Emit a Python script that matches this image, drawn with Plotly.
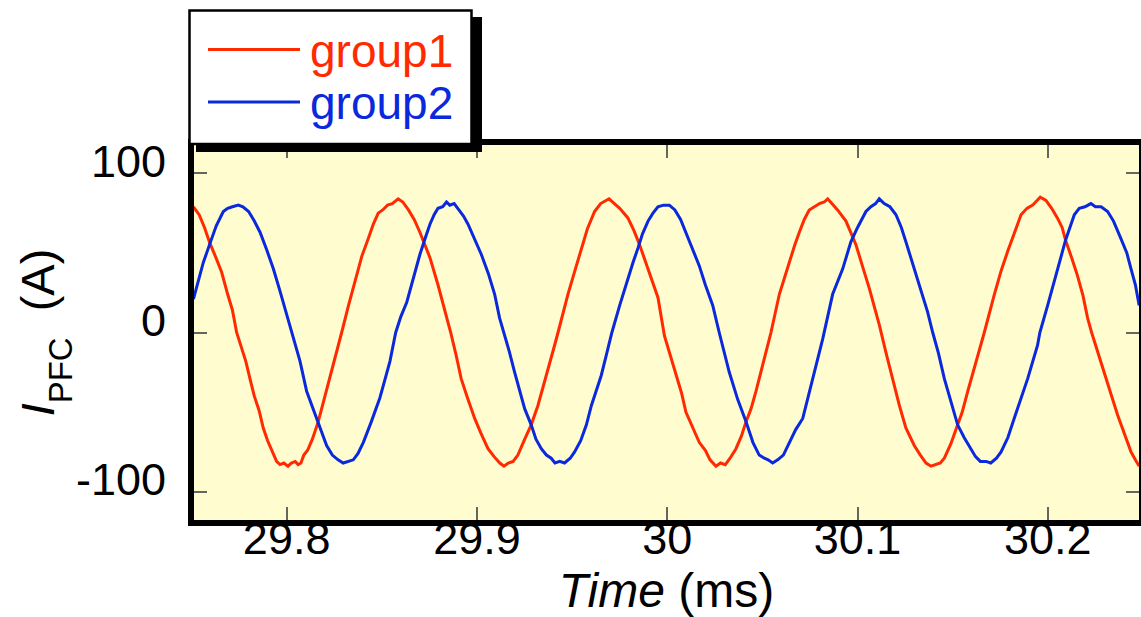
import plotly.graph_objects as go

# ---------------- data ----------------
t_group1 = [29.7510, 29.7540, 29.7568, 29.7597, 29.7625, 29.7658, 29.7690, 29.7715, 29.7737, 29.7760,
            29.7785, 29.7807, 29.7830, 29.7855, 29.7877, 29.7900, 29.7925, 29.7947, 29.7965, 29.7985,
            29.8007, 29.8025, 29.8045, 29.8060, 29.8075, 29.8090, 29.8110, 29.8135, 29.8166, 29.8195,
            29.8228, 29.8260, 29.8289, 29.8325, 29.8363, 29.8395, 29.8429, 29.8455, 29.8481, 29.8505,
            29.8530, 29.8555, 29.8586, 29.8610, 29.8640, 29.8670, 29.8700, 29.8725, 29.8753, 29.8795,
            29.8848, 29.8862, 29.8890, 29.8917, 29.8950, 29.8988, 29.9020, 29.9058, 29.9090, 29.9120,
            29.9142, 29.9165, 29.9190, 29.9215, 29.9251, 29.9285, 29.9320, 29.9356, 29.9408, 29.9426,
            29.9478, 29.9515, 29.9548, 29.9580, 29.9618, 29.9650, 29.9694, 29.9720, 29.9750, 29.9793,
            29.9825, 29.9855, 29.9899, 29.9951, 29.9985, 30.0046, 30.0075, 30.0098, 30.0130, 30.0168,
            30.0200, 30.0225, 30.0256, 30.0280, 30.0305, 30.0330, 30.0361, 30.0390, 30.0414, 30.0440,
            30.0466, 30.0495, 30.0519, 30.0545, 30.0589, 30.0615, 30.0641, 30.0670, 30.0694, 30.0720,
            30.0746, 30.0775, 30.0800, 30.0825, 30.0843, 30.0865, 30.0895, 30.0939, 30.0965, 30.0992,
            30.1025, 30.1061, 30.1114, 30.1123, 30.1150, 30.1184, 30.1220, 30.1254, 30.1298, 30.1330,
            30.1360, 30.1386, 30.1410, 30.1435, 30.1456, 30.1490, 30.1526, 30.1550, 30.1579, 30.1610,
            30.1649, 30.1666, 30.1719, 30.1755, 30.1789, 30.1825, 30.1859, 30.1890, 30.1920, 30.1960,
            30.1990, 30.2020, 30.2050, 30.2075, 30.2093, 30.2125, 30.2155, 30.2185, 30.2209, 30.2230,
            30.2260, 30.2296, 30.2330, 30.2367, 30.2400, 30.2437, 30.2460, 30.2480]
i_group1 = [79, 74, 66, 56, 48, 38, 24, 14, 0, -8,
            -18, -29, -40, -49, -60, -68, -75, -81, -83, -82,
            -84, -82, -81, -83, -82, -77, -74, -67, -56, -43,
            -29, -14, 0, 17, 34, 48, 59, 68, 75, 77,
            80, 81, 84, 82, 77, 71, 63, 56, 47, 30,
            7, 0, -14, -29, -41, -54, -63, -73, -78, -82,
            -84, -82, -81, -77, -67, -58, -46, -31, -8, 0,
            24, 39, 53, 65, 76, 81, 84, 81, 78, 72,
            64, 55, 40, 22, -2, -27, -38, -50, -59, -69,
            -74, -80, -84, -82, -83, -79, -73, -65, -56, -48,
            -37, -24, -12, 0, 24, 34, 45, 55, 63, 71,
            77, 79, 81, 82, 84, 81, 77, 70, 63, 55,
            42, 28, 5, 0, -13, -29, -46, -60, -71, -77,
            -82, -84, -83, -82, -79, -70, -58, -50, -37, -24,
            -8, 0, 24, 39, 51, 63, 74, 78, 80, 85,
            83, 78, 72, 66, 58, 47, 36, 23, 9, 0,
            -11, -25, -38, -52, -63, -75, -80, -84]

t_group2 = [29.7510, 29.7535, 29.7562, 29.7597, 29.7630, 29.7667, 29.7690, 29.7715, 29.7746, 29.7770,
            29.7800, 29.7830, 29.7860, 29.7895, 29.7930, 29.7965, 29.8000, 29.8026, 29.8070, 29.8105,
            29.8135, 29.8166, 29.8190, 29.8210, 29.8240, 29.8270, 29.8297, 29.8325, 29.8350, 29.8375,
            29.8403, 29.8445, 29.8490, 29.8520, 29.8543, 29.8573, 29.8600, 29.8631, 29.8665, 29.8700,
            29.8730, 29.8753, 29.8775, 29.8795, 29.8820, 29.8840, 29.8857, 29.8880, 29.8905, 29.8930,
            29.8953, 29.8990, 29.9023, 29.9060, 29.9093, 29.9119, 29.9142, 29.9170, 29.9198, 29.9225,
            29.9251, 29.9285, 29.9310, 29.9338, 29.9365, 29.9390, 29.9410, 29.9435, 29.9460, 29.9490,
            29.9513, 29.9545, 29.9575, 29.9601, 29.9625, 29.9653, 29.9680, 29.9709, 29.9750, 29.9793,
            29.9820, 29.9846, 29.9870, 29.9899, 29.9925, 29.9951, 29.9980, 30.0011, 30.0040, 30.0070,
            30.0098, 30.0130, 30.0168, 30.0200, 30.0239, 30.0273, 30.0300, 30.0326, 30.0370, 30.0414,
            30.0450, 30.0483, 30.0510, 30.0530, 30.0554, 30.0580, 30.0610, 30.0641, 30.0675, 30.0712,
            30.0740, 30.0764, 30.0795, 30.0817, 30.0869, 30.0895, 30.0922, 30.0965, 30.1000, 30.1044,
            30.1070, 30.1095, 30.1114, 30.1140, 30.1170, 30.1202, 30.1230, 30.1254, 30.1298, 30.1340,
            30.1368, 30.1395, 30.1425, 30.1456, 30.1490, 30.1526, 30.1560, 30.1596, 30.1620, 30.1645,
            30.1675, 30.1700, 30.1730, 30.1754, 30.1790, 30.1823, 30.1860, 30.1894, 30.1946, 30.1958,
            30.1999, 30.2051, 30.2093, 30.2139, 30.2165, 30.2195, 30.2226, 30.2250, 30.2280, 30.2314,
            30.2345, 30.2384, 30.2415, 30.2437, 30.2460, 30.2480]
i_group2 = [21, 33, 44, 56, 67, 76, 78, 79, 80, 79,
            76, 70, 63, 52, 40, 26, 11, 0, -18, -37,
            -47, -56, -65, -71, -77, -80, -82, -81, -80, -76,
            -69, -56, -41, -28, -18, 0, 10, 19, 34, 49,
            60, 68, 74, 78, 79, 82, 80, 81, 77, 73,
            68, 58, 49, 37, 24, 9, 0, -12, -25, -37,
            -48, -58, -67, -73, -77, -79, -82, -81, -82, -79,
            -75, -68, -58, -46, -37, -27, -14, 0, 17, 34,
            44, 53, 62, 70, 75, 79, 80, 80, 77, 71,
            63, 54, 42, 30, 17, 0, -12, -25, -42, -56,
            -69, -77, -79, -80, -82, -80, -77, -69, -61, -54,
            -41, -29, -15, -4, 24, 32, 40, 57, 66, 76,
            79, 81, 84, 81, 79, 74, 66, 57, 40, 25,
            13, 0, -13, -29, -43, -58, -66, -73, -78, -81,
            -81, -82, -79, -75, -66, -54, -41, -29, -8, 0,
            17, 40, 58, 74, 78, 79, 81, 79, 79, 76,
            70, 59, 50, 40, 30, 17]

series_names = ["group1", "group2"]
series_colors = ["#FF2A00", "#0A28DC"]

x_tickvals = [29.8, 29.9, 30.0, 30.1, 30.2]
x_ticktext = ["29.8", "29.9", "30", "30.1", "30.2"]
y_tickvals = [-100, 0, 100]
y_ticktext = ["-100", "0", "100"]
x_range = [29.7513, 30.2479]
y_range = [-117.8, 117.8]

# ---------------- layout constants ----------------
W, H = 1141, 617
ML, MR, MT, MB = 194, 2, 145, 97
PW, PH = W - ML - MR, H - MT - MB
FONT = "Liberation Sans, Arial, sans-serif"


def px(x):
    return (x - ML) / PW


def py(y):
    return (H - MB - y) / PH


fig = go.Figure()
for t, v, name, col in [(t_group1, i_group1, series_names[0], series_colors[0]),
                        (t_group2, i_group2, series_names[1], series_colors[1])]:
    fig.add_trace(go.Scatter(x=t, y=v, mode="lines", name=name,
                             line=dict(color=col, width=3), showlegend=False))

axis_common = dict(showgrid=False, zeroline=False, ticks="inside", ticklen=13,
                   tickwidth=1.5, tickcolor="#666660", showline=True, linecolor="black",
                   linewidth=6, mirror="allticks",
                   tickfont=dict(family=FONT, size=45, color="black"))

fig.update_xaxes(range=x_range, tickvals=x_tickvals, ticktext=x_ticktext,
                 ticklabelstandoff=-26,
                 title=dict(text="<i>Time</i> (ms)", font=dict(family=FONT, size=48, color="black"),
                            standoff=24),
                 **axis_common)
fig.update_yaxes(range=y_range, tickvals=y_tickvals, ticktext=y_ticktext,
                 ticklabelstandoff=13, ticklabelshift=-12,
                 title=dict(text="<i>I</i><sub><span style=\"baseline-shift:-8px\">PFC</span></sub>\u00a0 (A)",
                            font=dict(family=FONT, size=47, color="black"),
                            standoff=8),
                 **axis_common)

# legend box drawn by hand (long sample lines + drop shadow)
shapes = [
    dict(type="rect", xref="paper", yref="paper", x0=px(196), x1=px(482), y0=py(17), y1=py(152),
         fillcolor="black", line=dict(width=0), layer="above"),
    dict(type="rect", xref="paper", yref="paper", x0=px(189.5), x1=px(471.5), y0=py(10.5), y1=py(144),
         fillcolor="white", line=dict(color="black", width=2.5), layer="above"),
]
annotations = []
for k, (name, col) in enumerate(zip(series_names, series_colors)):
    yl = 49.5 + 52.5 * k
    shapes.append(dict(type="line", xref="paper", yref="paper", x0=px(208), x1=px(300),
                       y0=py(yl), y1=py(yl), line=dict(color=col, width=3), layer="above"))
    annotations.append(dict(xref="paper", yref="paper", x=px(308), y=py(yl + 1),
                            xanchor="left", yanchor="middle", text=name, showarrow=False,
                            font=dict(family=FONT, size=46, color=col)))

fig.update_layout(width=W, height=H, margin=dict(l=ML, r=MR, t=MT, b=MB, autoexpand=False),
                  paper_bgcolor="white", plot_bgcolor="#FFFCD0",
                  shapes=shapes, annotations=annotations, showlegend=False)

fig.write_html("out.html")
